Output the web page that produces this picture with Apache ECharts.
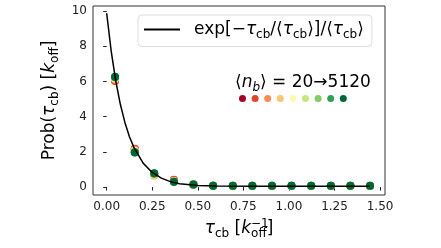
<!DOCTYPE html>
<html><head><meta charset="utf-8">
<script src="https://cdn.jsdelivr.net/npm/echarts@6/dist/echarts.min.js"></script>
<style>html,body{margin:0;padding:0;background:#fff}#c{width:441px;height:248px}</style>
</head><body><div id="c"></div>
<script>
// ---- data ----
const binCenters = [0.046, 0.154, 0.261, 0.369, 0.476, 0.584, 0.692, 0.799, 0.907, 1.014, 1.122, 1.230, 1.337, 1.445];
const lineX = [0, 0.025, 0.05, 0.075, 0.1, 0.125, 0.15, 0.2, 0.25, 0.3, 0.35, 0.4, 0.5, 0.6, 0.8, 1.0, 1.2, 1.445];
const lineY = [9.87, 7.71, 6.02, 4.70, 3.67, 2.86, 2.24, 1.36, 0.83, 0.51, 0.31, 0.19, 0.09, 0.06, 0.05, 0.05, 0.05, 0.05];
const nbLabels = ['20', '40', '80', '160', '320', '640', '1280', '2560', '5120'];
const prob20   = [6.05, 2.16, 0.70, 0.40, 0.14, 0.07, 0.06, 0.06, 0.06, 0.06, 0.06, 0.06, 0.06, 0.06];
const prob40   = [6.02, 2.18, 0.68, 0.42, 0.15, 0.07, 0.06, 0.06, 0.06, 0.06, 0.06, 0.06, 0.06, 0.06];
const prob80   = [6.10, 2.12, 0.66, 0.36, 0.14, 0.07, 0.06, 0.06, 0.06, 0.06, 0.06, 0.06, 0.06, 0.06];
const prob160  = [6.15, 2.08, 0.70, 0.34, 0.14, 0.08, 0.07, 0.06, 0.06, 0.06, 0.06, 0.06, 0.06, 0.06];
const prob320  = [6.18, 2.04, 0.72, 0.32, 0.15, 0.08, 0.07, 0.07, 0.07, 0.07, 0.07, 0.07, 0.07, 0.07];
const prob640  = [6.20, 2.00, 0.74, 0.31, 0.15, 0.08, 0.07, 0.07, 0.07, 0.07, 0.07, 0.07, 0.07, 0.07];
const prob1280 = [6.22, 1.98, 0.76, 0.30, 0.15, 0.08, 0.07, 0.07, 0.07, 0.07, 0.07, 0.07, 0.07, 0.07];
const prob2560 = [6.25, 1.97, 0.77, 0.30, 0.15, 0.08, 0.07, 0.07, 0.07, 0.07, 0.07, 0.07, 0.07, 0.07];
const prob5120 = [6.27, 1.96, 0.78, 0.30, 0.15, 0.08, 0.07, 0.07, 0.07, 0.07, 0.07, 0.07, 0.07, 0.07];
const probSets = [prob20, prob40, prob80, prob160, prob320, prob640, prob1280, prob2560, prob5120];
const xTicks = [0, 0.25, 0.5, 0.75, 1.0, 1.25, 1.5];
const yTicks = [0, 2, 4, 6, 8, 10];
const colors = ['#a50026', '#e0442f', '#f88d52', '#fdc574', '#fcf9b6', '#c6e77d', '#84ca66', '#2fa152', '#006837'];

const F = 'DejaVu Sans';
const rich = {
  a: {fontFamily: F, fontSize: 17, color: '#000', lineHeight: 22, align: 'left', fontWeight: 'normal'},
  i: {fontFamily: F, fontSize: 17, color: '#000', fontStyle: 'italic', lineHeight: 22, align: 'left', fontWeight: 'normal'},
  s: {fontFamily: F, fontSize: 12, color: '#000', lineHeight: 12, verticalAlign: 'bottom', align: 'left', fontWeight: 'normal'},
  si: {fontFamily: F, fontSize: 12, color: '#000', fontStyle: 'italic', lineHeight: 12, verticalAlign: 'bottom', align: 'left', fontWeight: 'normal'},
  p: {fontFamily: F, fontSize: 12, color: '#000', lineHeight: 5, verticalAlign: 'top', width: 0, align: 'left', fontWeight: 'normal'}
};

const series = [];
probSets.forEach((arr, k) => {
  series.push({
    name: nbLabels[k], type: 'scatter', symbolSize: 8, z: 2 + k,
    itemStyle: {color: colors[k], opacity: 1},
    data: binCenters.map((x, j) => [x, arr[j]])
  });
});
series.push({
  name: 'fit', type: 'line', symbol: 'none', z: 20, smooth: false,
  itemStyle: {color: '#000'},
  lineStyle: {color: '#000', width: 1.5},
  data: lineX.map((x, j) => [x, lineY[j]])
});

const chart = echarts.init(document.getElementById('c'), null, {renderer: 'canvas'});
chart.setOption({
  animation: false,
  backgroundColor: '#fff',
  grid: {left: 93, right: 56, top: 6, bottom: 53, show: true, borderColor: '#333', borderWidth: 1, backgroundColor: 'transparent'},
  title: {
    text: '{a|⟨}{i|n}{si|b}{a|⟩ = 20→5120}', left: 235, top: 72, padding: 0,
    textStyle: {fontFamily: F, fontSize: 17, fontWeight: 'normal', color: '#000', rich: rich, lineHeight: 22}
  },
  legend: [{
    data: ['fit'], left: 138, top: 15, orient: 'horizontal',
    itemWidth: 36, itemHeight: 2, icon: 'rect',
    padding: [6, 8, 6, 6],
    borderColor: '#ddd', borderWidth: 1, borderRadius: 4,
    formatter: () => '{a|exp[−}{i|τ}{s|cb}{a|/⟨}{i|τ}{s|cb}{a|⟩]/⟨}{i|τ}{s|cb}{a|⟩}',
    textStyle: {fontFamily: F, fontSize: 17, color: '#000', rich: rich, padding: [0, 0, 0, 9]},
    selectedMode: false
  }, {
    data: nbLabels, left: 239, top: 95, orient: 'horizontal',
    itemWidth: 7, itemHeight: 7, itemGap: 5.6, icon: 'circle', padding: 0,
    formatter: () => '', textStyle: {fontSize: 1}, selectedMode: false
  }],
  xAxis: {
    type: 'value', min: -0.075, max: 1.527,
    splitLine: {show: false},
    axisLine: {show: false},
    axisTick: {show: true, inside: false, length: 3.5, lineStyle: {color: '#222'}, customValues: xTicks},
    axisLabel: {customValues: xTicks, formatter: v => v.toFixed(2), fontFamily: F, fontSize: 12, color: '#222', margin: 6},
    name: '{i|τ}{s|cb}{a| [}{i|k}{p|−1}{s|off}{a|]}',
    nameLocation: 'middle', nameGap: 22,
    nameTextStyle: {fontFamily: F, fontSize: 17, color: '#000', rich: rich}
  },
  yAxis: {
    type: 'value', min: -0.45, max: 10.28,
    splitLine: {show: false},
    axisLine: {show: false},
    axisTick: {show: true, inside: false, length: 3.5, lineStyle: {color: '#222'}, customValues: yTicks},
    axisLabel: {customValues: yTicks, fontFamily: F, fontSize: 12, color: '#222', margin: 6},
    name: '{a|Prob(}{i|τ}{s|cb}{a|) [}{i|k}{s|off}{a|]}',
    nameLocation: 'middle', nameGap: 22, nameRotate: 90,
    nameTextStyle: {fontFamily: F, fontSize: 17, color: '#000', rich: rich}
  },
  series: series
});
</script></body></html>
